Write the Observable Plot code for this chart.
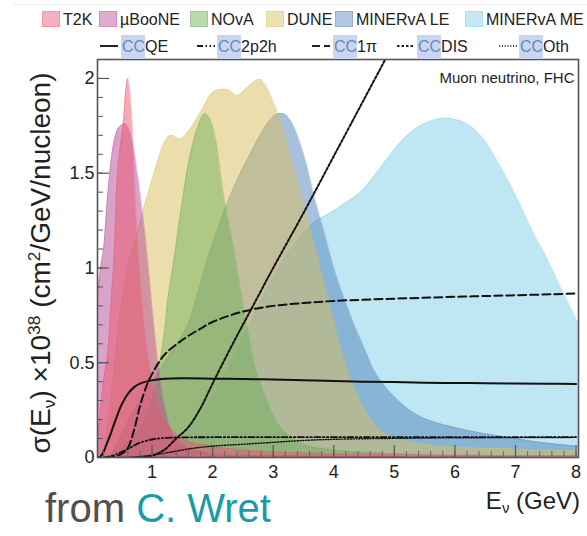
<!DOCTYPE html>
<html>
<head>
<meta charset="utf-8">
<script src="https://cdn.jsdelivr.net/npm/d3@7"></script>
<script src="https://cdn.jsdelivr.net/npm/@observablehq/plot@0.6"></script>
<style>
  body { margin: 0; background: #fff; font-family: "Liberation Sans", Arial, sans-serif; }
  #wrap { position: relative; width: 587px; height: 536px; overflow: hidden; background: #fff; }
  #chart { position: absolute; left: 0; top: 0; }
  .abs { position: absolute; white-space: nowrap; }
  .sw { position: absolute; top: 11px; width: 18px; height: 16px; box-sizing: border-box; }
  .lt { position: absolute; top: 10px; font-size: 16px; line-height: 20px; color: #222; white-space: nowrap; }
  .hl { position: absolute; top: 35px; height: 24px; background: #c6d6f3; }
  .lt2 { position: absolute; top: 37px; font-size: 16px; line-height: 20px; color: #222; white-space: nowrap; }
  .cc { color: #7085b6; }
  .sub { font-size: 0.62em; position: relative; top: 0.3em; }
  .sup { font-size: 0.62em; position: relative; top: -0.55em; }
</style>
</head>
<body>
<div id="wrap">
  <div id="chart"></div>
</div>
<script>
// ---------- data ----------
// fluxes: [E_nu (GeV), arbitrary height on the sigma axis]
const fluxT2K = [[0.1,0.1],[0.2,0.4],[0.27,0.56],[0.33,0.85],[0.37,1.04],[0.43,1.5],[0.48,1.65],[0.53,1.78],[0.57,1.95],[0.6,2.0],[0.63,1.95],[0.67,1.78],[0.7,1.55],[0.74,1.25],[0.78,1.04],[0.85,0.75],[0.95,0.5],[1.05,0.33],[1.2,0.2],[1.5,0.1],[2,0.06],[3,0.03],[5,0.015],[8,0.01]];
const fluxMicroBooNE = [[0.1,0.85],[0.15,1.0],[0.2,1.1],[0.23,1.22],[0.27,1.39],[0.32,1.55],[0.37,1.66],[0.45,1.74],[0.56,1.76],[0.62,1.73],[0.68,1.66],[0.76,1.5],[0.84,1.3],[0.93,1.04],[1.0,0.8],[1.1,0.5],[1.2,0.28],[1.35,0.12],[1.6,0.05],[2.0,0.02],[3,0.01],[8,0]];
const fluxNOvA = [[0.3,0],[0.5,0.05],[0.8,0.15],[1.0,0.3],[1.1,0.45],[1.2,0.65],[1.26,0.83],[1.36,1.04],[1.5,1.35],[1.6,1.55],[1.72,1.71],[1.8,1.78],[1.87,1.815],[1.95,1.79],[2.05,1.68],[2.18,1.39],[2.38,1.04],[2.57,0.69],[2.7,0.48],[2.85,0.34],[3.12,0.16],[3.5,0.07],[4,0.04],[5,0.02],[6,0.01],[8,0]];
const fluxDUNE = [[0.2,0],[0.3,0.25],[0.4,0.55],[0.5,0.82],[0.62,1.04],[0.73,1.15],[0.85,1.3],[0.95,1.41],[1.1,1.57],[1.2,1.66],[1.31,1.70],[1.47,1.68],[1.6,1.72],[1.8,1.82],[2.02,1.93],[2.25,1.94],[2.41,1.91],[2.6,1.96],[2.78,1.995],[2.9,1.95],[3.0,1.88],[3.12,1.78],[3.3,1.57],[3.5,1.34],[3.7,1.1],[3.9,0.85],[4.1,0.6],[4.3,0.4],[4.5,0.26],[4.75,0.15],[5.0,0.1],[5.5,0.07],[6,0.055],[7,0.045],[8,0.035]];
const fluxMinervaLE = [[0.3,0],[0.5,0.12],[0.7,0.25],[0.9,0.35],[1.1,0.45],[1.3,0.55],[1.58,0.69],[1.75,0.86],[1.91,1.04],[2.1,1.22],[2.24,1.34],[2.4,1.46],[2.57,1.57],[2.75,1.68],[2.9,1.76],[3.05,1.81],[3.12,1.815],[3.2,1.81],[3.3,1.77],[3.4,1.7],[3.53,1.57],[3.7,1.35],[3.85,1.18],[4.0,1.0],[4.15,0.86],[4.3,0.73],[4.5,0.58],[4.7,0.44],[5.0,0.32],[5.4,0.22],[6.1,0.15],[6.8,0.11],[7.4,0.08],[8,0.06]];
const fluxMinervaME = [[1.0,0],[1.3,0.05],[1.5,0.1],[1.8,0.22],[2.18,0.42],[2.5,0.63],[2.74,0.79],[3.0,0.95],[3.3,1.1],[3.67,1.24],[3.94,1.29],[4.27,1.36],[4.44,1.4],[4.75,1.52],[5.04,1.64],[5.25,1.71],[5.48,1.76],[5.81,1.79],[6.05,1.78],[6.25,1.75],[6.5,1.67],[6.69,1.57],[6.9,1.45],[7.13,1.3],[7.35,1.15],[7.46,1.09],[7.79,0.87],[8.05,0.7]];

// cross sections: [E_nu (GeV), sigma x 1e38 (cm^2/GeV/nucleon)]
const xsCCQE = [[0.1,0],[0.15,0.005],[0.2,0.03],[0.25,0.07],[0.3,0.11],[0.4,0.2],[0.5,0.28],[0.6,0.335],[0.7,0.37],[0.8,0.39],[1.0,0.407],[1.2,0.415],[1.5,0.418],[2,0.416],[2.5,0.414],[3,0.412],[3.5,0.408],[4,0.403],[4.5,0.4],[5,0.398],[5.5,0.395],[6,0.393],[6.5,0.392],[7,0.39],[7.5,0.389],[8,0.388]];
const xsCC2p2h = [[0.2,0],[0.4,0.015],[0.6,0.045],[0.8,0.078],[1.0,0.095],[1.2,0.103],[1.5,0.106],[2,0.107],[3,0.107],[4,0.107],[5,0.107],[6,0.107],[7,0.107],[8,0.107]];
const xsCC1pi = [[0.25,0],[0.4,0.005],[0.5,0.02],[0.6,0.05],[0.7,0.14],[0.8,0.27],[0.9,0.37],[1.0,0.44],[1.2,0.54],[1.5,0.62],[1.8,0.68],[2.0,0.715],[2.5,0.77],[3.0,0.8],[3.5,0.815],[4,0.826],[5,0.838],[6,0.848],[7,0.856],[8,0.865]];
const xsCCDIS = [[0.8,0],[1.0,0.01],[1.2,0.04],[1.4,0.1],[1.6,0.16],[1.8,0.26],[2.0,0.39],[2.3,0.58],[2.6,0.76],[3.0,1.0],[3.5,1.29],[4.0,1.59],[4.5,1.89],[4.9,2.13]];
const xsCCOth = [[0.5,0],[0.8,0.005],[1.0,0.012],[1.3,0.028],[1.64,0.047],[2.0,0.06],[2.5,0.07],[3.0,0.08],[3.5,0.09],[4.0,0.096],[5,0.101],[6,0.104],[7,0.105],[8,0.106]];

const fluxNames = ["T2K", "\u00b5BooNE", "NOvA", "DUNE", "MINERvA LE", "MINERvA ME"];
const xsNames = ["QE", "2p2h", "1\u03c0", "DIS", "Oth"];
const xTickValues = [1, 2, 3, 4, 5, 6, 7, 8];
const yTickValues = [0, 0.5, 1, 1.5, 2];
const noteText = "Muon neutrino, FHC";

// ---------- styles ----------
const fluxColors = ["#e9556f", "#b44794", "#67ac55", "#d9bd59", "#5181b9", "#7dcde7"];
const fluxOpacity = [0.5, 0.5, 0.45, 0.5, 0.5, 0.5];
const xsDash = [null, "6,2.5,1.5,2.5,1.5,2.5", "8,4", "2.5,2", "1.2,1.6"];
const xsWidth = [2, 1.8, 2, 2, 1.4];

const fluxData = [fluxT2K, fluxMicroBooNE, fluxNOvA, fluxDUNE, fluxMinervaLE, fluxMinervaME];
const xsData = [xsCCQE, xsCC2p2h, xsCC1pi, xsCCDIS, xsCCOth];

const X = d => d[0], Y = d => d[1];
const marks = [];
// drawn from last to first so the narrow-band fluxes sit on top
for (let i = fluxData.length - 1; i >= 0; i--) {
  const data = fluxData[i];
  marks.push(Plot.areaY(data, {x: X, y: Y, fill: fluxColors[i], fillOpacity: fluxOpacity[i], curve: "catmull-rom", clip: true}));
  marks.push(Plot.lineY(data, {x: X, y: Y, stroke: fluxColors[i], strokeOpacity: 0.3, strokeWidth: 1, curve: "catmull-rom", clip: true}));
}
xsData.forEach((data, i) => {
  marks.push(Plot.line(data, {x: X, y: Y, stroke: "#111", strokeWidth: xsWidth[i], strokeDasharray: xsDash[i], curve: "catmull-rom", clip: true}));
});
// axes (ticks inside the frame)
marks.push(Plot.axisY(d3.range(0, 2.1001, 0.1).map(v => +v.toFixed(1)), {tickSize: -6, tickFormat: () => "", label: null, stroke: "#555"}));
marks.push(Plot.axisY(yTickValues, {tickSize: -12, tickPadding: 15, tickFormat: d => String(d), label: null, fontSize: 18, stroke: "#555", fill: "#222", strokeWidth: 1.2}));
marks.push(Plot.axisX(d3.range(0.2, 8.0001, 0.2).map(v => +v.toFixed(1)), {tickSize: -6, tickFormat: () => "", label: null, stroke: "#666"}));
marks.push(Plot.axisX(xTickValues, {tickSize: -12, tickPadding: 20, tickFormat: d => String(d), label: null, fontSize: 18, stroke: "#555", fill: "#222", strokeWidth: 1.2}));
marks.push(Plot.frame({stroke: "#555", strokeWidth: 1.6}));
marks.push(Plot.text([noteText], {text: d => d, frameAnchor: "top-right", textAnchor: "end", dx: -4, dy: 13, fontSize: 15, fill: "#222"}));

const chart = Plot.plot({
  width: 587, height: 536,
  marginLeft: 97, marginRight: 9, marginTop: 59, marginBottom: 79,
  x: {domain: [0.1, 8.04]},
  y: {domain: [0, 2.1]},
  style: {fontFamily: "Liberation Sans, Arial, sans-serif", background: "transparent", color: "#222"},
  marks
});
document.getElementById("chart").appendChild(chart);

// ---------- overlays: legend and labels ----------
const wrap = document.getElementById("wrap");
function add(html, cls, css) {
  const el = document.createElement("div");
  el.className = cls;
  el.innerHTML = html;
  Object.assign(el.style, css);
  wrap.appendChild(el);
  return el;
}
// top faint rule
add("", "abs", {left: "14px", top: "4px", width: "573px", height: "1px", background: "#eeeeee"});
// flux legend row
const swatchX = [42, 99, 190, 266, 335, 465];
fluxNames.forEach((name, i) => {
  const c = d3.color(fluxColors[i]);
  add("", "sw", {left: swatchX[i] + "px", background: `rgba(${c.r},${c.g},${c.b},0.45)`, border: `1px solid rgba(${c.r},${c.g},${c.b},0.3)`});
  add(name, "lt", {left: (swatchX[i] + 21) + "px"});
});
// cross-section legend row
const lineX = [100, 197, 312, 397, 499];
const ccX = [121, 217, 333, 417, 519];
xsNames.forEach((name, i) => {
  const svg = `<svg width="18" height="6" style="display:block"><line x1="0" y1="3" x2="18" y2="3" stroke="#222" stroke-width="${xsWidth[i]}" ${xsDash[i] ? `stroke-dasharray="${xsDash[i]}"` : ""}/></svg>`;
  add(svg, "abs", {left: lineX[i] + "px", top: "43px"});
  add("", "hl", {left: ccX[i] + "px", width: "24px"});
  add(`<span class="cc">CC</span>${name}`, "lt2", {left: (ccX[i] + 1) + "px"});
});
// y axis title
add(`\u03c3(E<span class="sub">\u03bd</span>) \u00d710<span class="sup">38</span> (cm<span class="sup">2</span>/GeV/nucleon)`, "abs",
  {left: "42px", top: "263px", fontSize: "28px", lineHeight: "30px", color: "#222", transform: "translate(-50%,-50%) rotate(-90deg)"});
// x axis title
add(`E<span class="sub">\u03bd</span> (GeV)`, "abs", {right: "7px", top: "489px", fontSize: "24px", lineHeight: "24px", color: "#222"});
// credit
add(`<span style="color:#4f4f4f">from </span><span style="color:#1a9ba7">C. Wret</span>`, "abs", {left: "45px", top: "488px", fontSize: "40px", lineHeight: "40px"});
</script>
</body>
</html>
